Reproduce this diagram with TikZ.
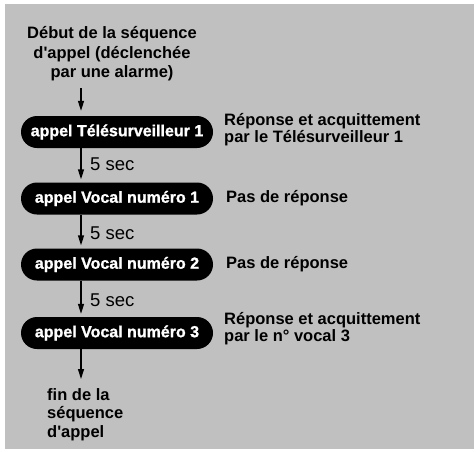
\documentclass[tikz,border=0pt]{standalone}
\usepackage{fontspec}
\setmainfont{Liberation Sans}
\newfontfamily\grasfont{Liberation Sans Bold}[FakeBold=1.2]
\usetikzlibrary{arrows.meta}
\definecolor{fond}{RGB}{192,192,192}
\tikzset{
	appel/.style={fill=black, text=white, rounded corners=16pt, minimum width=192pt, minimum height=32pt, inner sep=0pt, font=\grasfont\fontsize{16}{18}\selectfont},
	fleche/.style={-{Triangle[length=10pt,width=6pt]}, line width=1.4pt},
	reponse/.style={anchor=west, align=left, inner sep=0pt, font=\bfseries\fontsize{16.5}{17}\selectfont},
	delai/.style={anchor=west, inner sep=0pt, font=\fontsize{18.5}{20}\selectfont}
}
\begin{document}
\begin{tikzpicture}[x=1pt, y=-1pt]
	\useasboundingbox (0,0) rectangle (476,451);
	\fill[fond] (5,4) rectangle (474,449);
	\node[align=center, inner sep=0pt, font=\bfseries\fontsize{16.5}{19.5}\selectfont] (debut) at (112,54) {Début de la séquence\\d\textquotesingle appel (déclenchée\\par une alarme)};
	\node[appel] (tele) at (117,132) {appel Télésurveilleur 1};
	\node[appel] (voc1) at (117,198.5) {appel Vocal numéro 1};
	\node[appel] (voc2) at (117,264.5) {appel Vocal numéro 2};
	\node[appel] (voc3) at (117,333) {appel Vocal numéro 3};
	\node[anchor=north west, align=left, inner sep=0pt, font=\bfseries\fontsize{16.5}{18.5}\selectfont] (fin) at (47,388) {fin de la\\séquence\\d\textquotesingle appel};
	\coordinate (depart) at (81,88);
	\coordinate (arrivee) at (81,379);
	\draw[fleche] (depart) -- (depart |- tele.north) [shorten >=5pt];
	\draw[fleche, shorten >=3pt] (depart |- tele.south) -- (depart |- voc1.north);
	\draw[fleche, shorten >=3pt] (depart |- voc1.south) -- (depart |- voc2.north);
	\draw[fleche, shorten >=3pt] (depart |- voc2.south) -- (depart |- voc3.north);
	\draw[fleche] (depart |- voc3.south) -- (arrivee);
	\node[delai] (d1) at (90,164) {5 sec};
	\node[delai] (d2) at (90,233) {5 sec};
	\node[delai] (d3) at (90,300) {5 sec};
	\node[reponse] (r1) at (224,130) {Réponse et acquittement\\par le Télésurveilleur 1};
	\node[reponse] (r2) at (226,198) {Pas de réponse};
	\node[reponse] (r3) at (226,264) {Pas de réponse};
	\node[reponse] (r4) at (224,328.5) {Réponse et acquittement\\par le n° vocal 3};
\end{tikzpicture}
\end{document}
